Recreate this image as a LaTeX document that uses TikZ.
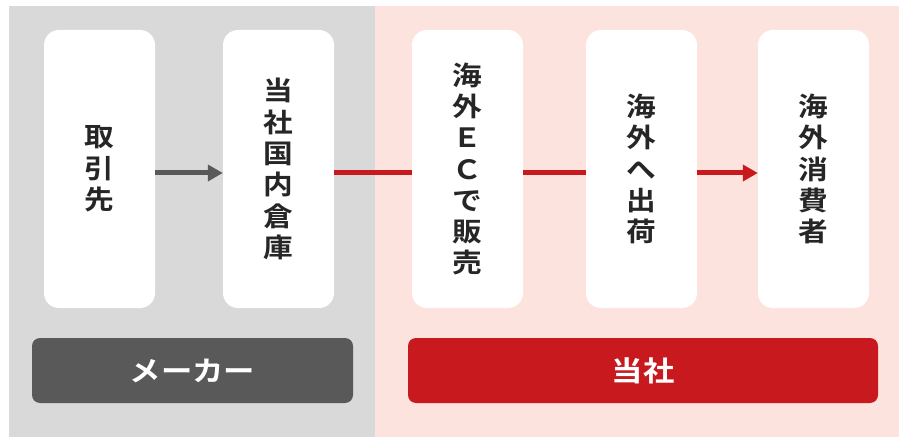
\documentclass[tikz,border=0pt]{standalone}
\usepackage{fontspec}
\newfontfamily\jpfont{Noto Sans CJK JP Bold}[FakeStretch=1.12]
\usetikzlibrary{arrows.meta}
\definecolor{graybg}{HTML}{D9D9D9}
\definecolor{pinkbg}{HTML}{FDE3DE}
\definecolor{darkbar}{HTML}{595959}
\definecolor{redc}{HTML}{C8191E}
\definecolor{txt}{HTML}{262626}
\begin{document}
\begin{tikzpicture}[x=1pt,y=-1pt,
  stepbox/.style={fill=white, rounded corners=15pt, minimum width=111pt, minimum height=278pt, inner sep=0pt,
    font=\jpfont\fontsize{26.5}{31.3}\selectfont, text=txt, align=center},
  labelbar/.style={rounded corners=8pt, minimum height=65pt, inner sep=0pt,
    font=\jpfont\fontsize{28}{30}\selectfont, text=white},
  flow/.style={line width=5pt},
  tip/.style={-{Triangle[length=15pt,width=16pt]}}]
\useasboundingbox (0,0) rectangle (899,438);
\fill[white] (0,0) rectangle (899,438);
\fill[graybg] (9,6) rectangle (375,437);
\fill[pinkbg] (375,6) rectangle (899,437);
\node[stepbox] (b1) at (99.5,169) {取\\引\\先};
\node[stepbox] (b2) at (278.5,169) {当\\社\\国\\内\\倉\\庫};
\node[stepbox] (b3) at (467.5,169) {海\\外\\Ｅ\\Ｃ\\で\\販\\売};
\node[stepbox] (b4) at (641.5,169) {海\\外\\へ\\出\\荷};
\node[stepbox] (b5) at (813.5,169) {海\\外\\消\\費\\者};
\node[labelbar, fill=darkbar, minimum width=321pt] (maker) at (192.5,370.5) {メーカー};
\node[labelbar, fill=redc, minimum width=470pt] (us) at (643,370.5) {当社};
\draw[flow, darkbar, tip] ([yshift=-4pt]b1.east) -- ([yshift=-4pt]b2.west);
\draw[flow, redc] ([yshift=-4pt]b2.east) -- ([yshift=-4pt]b3.west);
\draw[flow, redc] ([yshift=-4pt]b3.east) -- ([yshift=-4pt]b4.west);
\draw[flow, redc, tip] ([yshift=-4pt]b4.east) -- ([yshift=-4pt]b5.west);
\end{tikzpicture}
\end{document}
